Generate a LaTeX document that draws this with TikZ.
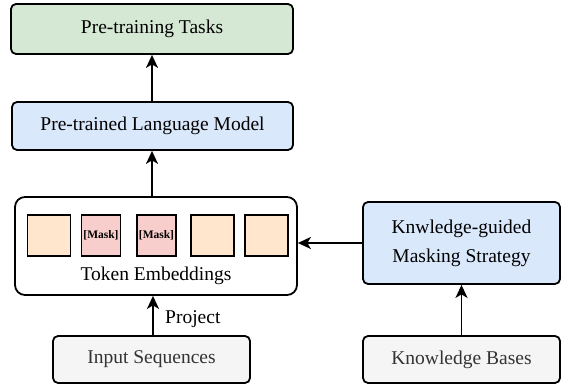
\documentclass[tikz,border=0pt]{standalone}
\usepackage{fontspec}
\setmainfont{Liberation Serif}
\usetikzlibrary{arrows.meta}
\definecolor{greenfill}{HTML}{D5E8D4}
\definecolor{bluefill}{HTML}{DAE8FC}
\definecolor{greyfill}{HTML}{F5F5F5}
\definecolor{greytext}{HTML}{333333}
\definecolor{orangefill}{HTML}{FFE6CC}
\definecolor{maskfill}{HTML}{F8CECC}
\tikzset{
  lbl/.style={font=\fontsize{19.5}{29}\selectfont},
  box/.style={draw=black, line width=1.8pt, rounded corners=5pt, lbl, align=center, inner sep=0pt},
  tok/.style={draw=black, line width=1.8pt, fill=orangefill, minimum width=43pt, minimum height=41pt, inner sep=0pt},
  masktok/.style={tok, fill=maskfill, minimum width=39pt, font=\fontsize{11.5}{13}\selectfont\bfseries},
  arr/.style={line width=1.8pt, -{Stealth[length=13pt,width=12pt,inset=3.5pt]}},
}
\begin{document}
\begin{tikzpicture}[x=1pt,y=-1pt]
\useasboundingbox (0,0) rectangle (566,385);
\node[box, fill=greenfill, minimum width=282pt, minimum height=50pt] (tasks) at (152,29) {Pre-training Tasks};
\node[box, fill=bluefill, minimum width=281pt, minimum height=48pt] (plm) at (152.5,126) {Pre-trained Language Model};
\node[box, fill=white, rounded corners=10pt, minimum width=282pt, minimum height=98pt] (emb) at (156,246) {};
\node[tok] (t1) at (49,235.5) {};
\node[masktok] (t2) at (101,235.5) {[Mask]};
\node[masktok] (t3) at (156.5,235.5) {[Mask]};
\node[tok] (t4) at (212.5,235.5) {};
\node[tok] (t5) at (266.5,235.5) {};
\node[lbl] (embtext) at (156,276) {Token Embeddings};
\node[box, fill=greyfill, text=greytext, minimum width=197pt, minimum height=47pt] (input) at (151.5,359.5) {Input Sequences};
\node[box, fill=bluefill, minimum width=197pt, minimum height=82pt] (kg) at (461.5,243) {Knwledge-guided\\Masking Strategy};
\node[box, fill=greyfill, text=greytext, minimum width=197pt, minimum height=47pt] (kb) at (461.5,359.5) {Knowledge Bases};
\coordinate (c0) at (152,0);
\draw[arr] (plm.north -| c0) -- (tasks.south -| c0);
\draw[arr] (emb.north -| c0) -- (plm.south -| c0);
\coordinate (c1) at (153,0);
\draw[arr] (input.north -| c1) -- (emb.south -| c1) node[pos=0.4, right=8pt, lbl] (proj) {Project};
\draw[arr] (kg.west) -- (kg.west -| emb.east);
\draw[arr] (kb.north -| kg.south) -- (kg.south);
\end{tikzpicture}
\end{document}
